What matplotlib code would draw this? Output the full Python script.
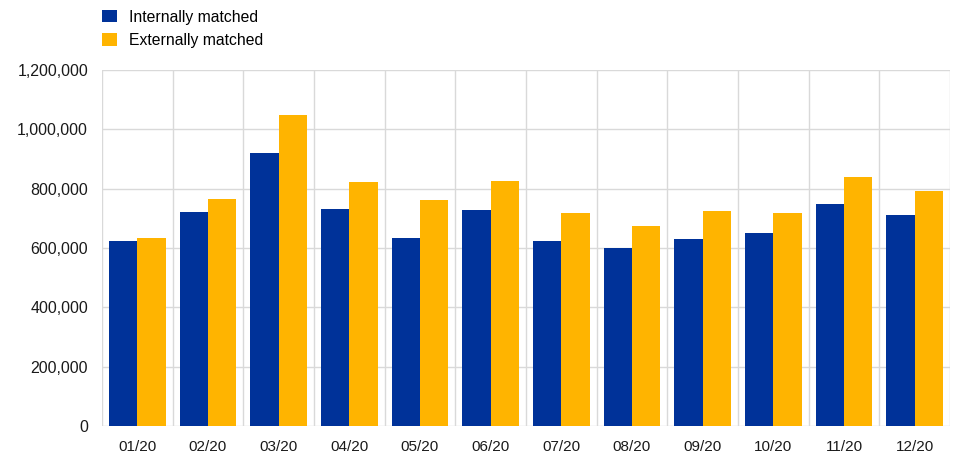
import matplotlib.pyplot as plt
import numpy as np
from matplotlib.ticker import FuncFormatter, MultipleLocator

plt.rcParams['font.family'] = ['Liberation Sans', 'DejaVu Sans']

months = ['01/20', '02/20', '03/20', '04/20', '05/20', '06/20',
          '07/20', '08/20', '09/20', '10/20', '11/20', '12/20']
internal = [624000, 721000, 919000, 730000, 634000, 729000,
            624000, 601000, 629000, 650000, 750000, 711000]
external = [634000, 765000, 1047000, 823000, 762000, 825000,
            719000, 673000, 725000, 718000, 839000, 792000]

BLUE = '#003299'
YELLOW = '#FFB400'
GRID = '#d9d9d9'

fig = plt.figure(figsize=(9.54, 4.54), dpi=100)
ax = fig.add_axes([102/954, 28/454, 848/954, 356/454])

x = np.arange(len(months))
w = 0.4
ax.bar(x - w/2, internal, w, color=BLUE, label='Internally matched', zorder=3)
ax.bar(x + w/2, external, w, color=YELLOW, label='Externally matched', zorder=3)

ax.set_xlim(-0.5, len(months) - 0.5)
ax.set_ylim(0, 1200000)
ax.yaxis.set_major_locator(MultipleLocator(200000))
ax.yaxis.set_major_formatter(FuncFormatter(lambda v, p: f'{int(v):,}'))
ax.set_xticks(x)
ax.set_xticklabels(months)
ax.set_xticks(np.arange(-0.5, len(months)), minor=True)
ax.tick_params(which='both', length=0, labelsize=11, colors='#1a1a1a')
ax.tick_params(axis='y', labelsize=11.5, pad=10)
ax.tick_params(axis='x', pad=10)
ax.grid(axis='y', which='major', color=GRID, linewidth=1, zorder=0)
ax.grid(axis='x', which='minor', color=GRID, linewidth=1, zorder=0)
for s in ax.spines.values():
    s.set_visible(False)

fig.legend(loc='upper left', bbox_to_anchor=(93/954, 0.998), frameon=False,
           fontsize=11.3, handlelength=0.95, handleheight=0.85, handletextpad=0.8,
           labelspacing=0.55, borderaxespad=0.15)

fig.savefig('out.png', dpi=100)
